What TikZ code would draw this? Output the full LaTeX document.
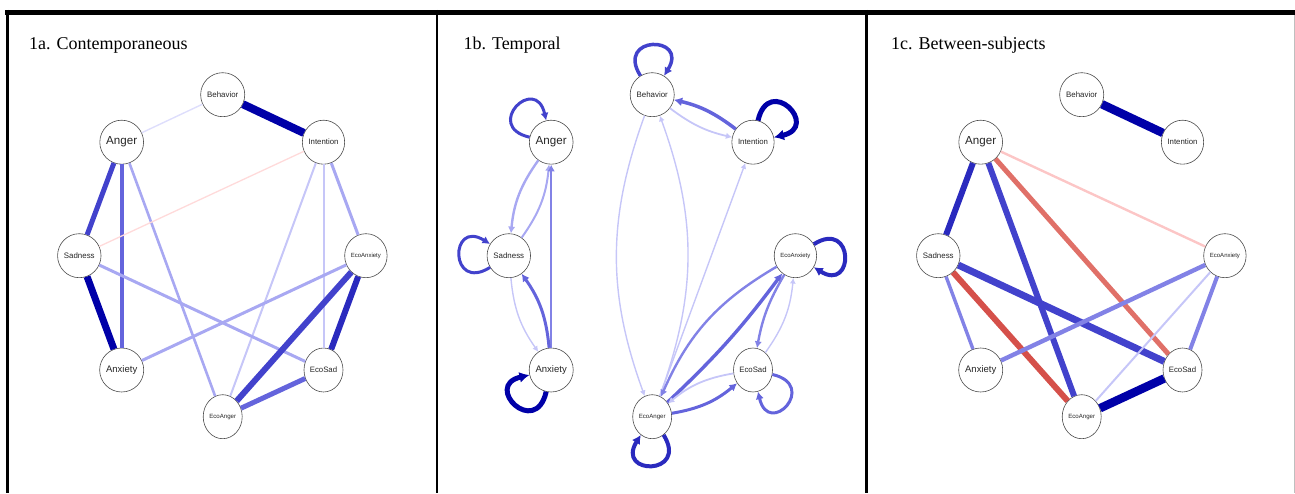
\documentclass[tikz,border=0pt]{standalone}
\usepackage{fontspec}
\setmainfont{Liberation Serif}
\newfontfamily\labelfont{Liberation Sans}
\usepackage{tikz}
\usetikzlibrary{shapes.geometric, arrows.meta}
\definecolor{dk}{HTML}{0000A8}
\definecolor{b2}{HTML}{2A2ABE}
\definecolor{b3}{HTML}{4242CC}
\definecolor{b4}{HTML}{6464DC}
\definecolor{b5}{HTML}{8282E6}
\definecolor{b6}{HTML}{A8A8F2}
\definecolor{b7}{HTML}{C6C6F8}
\definecolor{b8}{HTML}{DEDEFC}
\definecolor{r1}{HTML}{D5504A}
\definecolor{r2}{HTML}{E07068}
\definecolor{r3}{HTML}{FCC6C6}
\definecolor{r4}{HTML}{FFDADA}
\newcommand{\lsize}[1]{\labelfont\fontsize{#1}{#1}\selectfont}
\tikzstyle{var} = [ellipse, minimum width=39pt, minimum height=44pt, inner sep=0pt, draw=black!70, line width=0.6pt, fill=white, text=black!85]
\tikzstyle{paneltitle} = [anchor=base west, inner sep=0pt, font=\fontsize{18}{20}\selectfont]
\tikzstyle{arrow} = [-{Latex[length=4pt 1.2, width=4pt 1.4]}]
\tikzstyle{selfloop} = [arrow, distance=48pt]
\begin{document}
\begin{tikzpicture}[x=1pt, y=1pt]
    \useasboundingbox (0,0) rectangle (1295,493);
    % frame of the three panels
    \draw[line width=5pt] (5,480.5) -- (1295,480.5);
    \draw[line width=3.5pt] (7.5,483) -- (7.5,0);
    \draw[line width=2.2pt] (437,483) -- (437,0);
    \draw[line width=2.2pt] (866.5,483) -- (866.5,0);
    \draw[line width=0.8pt, black!25] (1294,478) -- (1294,0);

    \node[paneltitle] (ta) at (29,443) {1a. Contemporaneous};
    \node[paneltitle] (tb) at (463.3,443) {1b. Temporal};
    \node[paneltitle] (tc) at (891,443) {1c. Between-subjects};

    % same layout in every panel
    \foreach \p/\dx in {a/0, b/429.5, c/859} {
        \begin{scope}[xshift=\dx pt]
            \node[var, font=\lsize{7.9}] (\p-beh) at (222.7,398.3) {Behavior};
            \node[var, font=\lsize{11.6}] (\p-ang) at (121.7,350.8) {Anger};
            \node[var, font=\lsize{7.8}] (\p-int) at (323.5,350.8) {Intention};
            \node[var, font=\lsize{7.9}] (\p-sad) at (79.3,237.3) {Sadness};
            \node[var, font=\lsize{6}] (\p-ecx) at (365.9,237.3) {EcoAnxiety};
            \node[var, font=\lsize{9.5}] (\p-anx) at (121.7,123) {Anxiety};
            \node[var, font=\lsize{7.8}] (\p-ecs) at (323.5,123) {EcoSad};
            \node[var, font=\lsize{6.1}] (\p-eca) at (222.7,76.3) {EcoAnger};
        \end{scope}
    }

    % 1a
    \draw[line width=8pt, dk] (a-beh) -- (a-int);
    \draw[line width=1.4pt, b8] (a-beh) -- (a-ang);
    \draw[line width=5pt, b3] (a-ang) -- (a-sad);
    \draw[line width=4pt, b4] (a-ang) -- (a-anx);
    \draw[line width=2.6pt, b6] (a-ang) -- (a-eca);
    \draw[line width=1.3pt, r4] (a-int) -- (a-sad);
    \draw[line width=2pt, b7] (a-int) -- (a-eca);
    \draw[line width=2pt, b7] (a-int) -- (a-ecs);
    \draw[line width=3pt, b6] (a-int) -- (a-ecx);
    \draw[line width=7pt, dk] (a-sad) -- (a-anx);
    \draw[line width=3pt, b6] (a-sad) -- (a-ecs);
    \draw[line width=3pt, b6] (a-ecx) -- (a-anx);
    \draw[line width=6pt, b3] (a-ecx) -- (a-eca);
    \draw[line width=6pt, b2] (a-ecx) -- (a-ecs);
    \draw[line width=5pt, b4] (a-ecs) -- (a-eca);

    % 1b
    \draw[selfloop, line width=3.5pt, b3] (b-beh) to[out=122, in=58] (b-beh);
    \draw[selfloop, line width=3pt, b3] (b-ang) to[out=167, in=103] (b-ang);
    \draw[selfloop, line width=5pt, dk] (b-int) to[out=77, in=13] (b-int);
    \draw[selfloop, line width=3pt, b3] (b-sad) to[out=212, in=148] (b-sad);
    \draw[selfloop, line width=4pt, b2] (b-ecx) to[out=32, in=-32] (b-ecx);
    \draw[selfloop, line width=5pt, dk] (b-anx) to[out=257, in=193] (b-anx);
    \draw[selfloop, line width=3pt, b4] (b-ecs) to[out=347, in=283] (b-ecs);
    \draw[selfloop, line width=4pt, b2] (b-eca) to[out=302, in=238] (b-eca);
    \draw[arrow, line width=3.5pt, b4] (b-int) to[bend right=12] (b-beh);
    \draw[arrow, line width=1.8pt, b7] (b-beh) to[bend right=12] (b-int);
    \draw[arrow, line width=1.4pt, b7] (b-beh) to[bend right=20] (b-eca);
    \draw[arrow, line width=1.4pt, b7] (b-eca) to[bend right=20] (b-beh);
    \draw[arrow, line width=1.4pt, b7] (b-eca) -- (b-int);
    \draw[arrow, line width=2.4pt, b5] (b-ecx) to[bend right=18] (b-eca);
    \draw[arrow, line width=3.4pt, b4] (b-eca) to[bend right=5] (b-ecx);
    \draw[arrow, line width=1.8pt, b7] (b-ecs) to[bend right=15] (b-eca);
    \draw[arrow, line width=3pt, b4] (b-eca) to[bend right=15] (b-ecs);
    \draw[arrow, line width=2.4pt, b5] (b-ecx) to[bend right=10] (b-ecs);
    \draw[arrow, line width=1.4pt, b7] (b-ecs) to[bend right=15] (b-ecx);
    \draw[arrow, line width=2.4pt, b6] (b-ang) to[bend right=15] (b-sad);
    \draw[arrow, line width=2pt, b6] (b-sad) to[bend right=15] (b-ang);
    \draw[arrow, line width=2.4pt, b5] (b-anx) -- (b-ang);
    \draw[arrow, line width=3pt, b4] (b-anx) to[bend right=15] (b-sad);
    \draw[arrow, line width=1.4pt, b7] (b-sad) to[bend right=15] (b-anx);

    % 1c
    \draw[line width=8.5pt, dk] (c-beh) -- (c-int);
    \draw[line width=6pt, b2] (c-ang) -- (c-sad);
    \draw[line width=6pt, b3] (c-ang) -- (c-eca);
    \draw[line width=5pt, r2] (c-ang) -- (c-ecs);
    \draw[line width=2.4pt, r3] (c-ang) -- (c-ecx);
    \draw[line width=3.4pt, b5] (c-sad) -- (c-anx);
    \draw[line width=6pt, r1] (c-sad) -- (c-eca);
    \draw[line width=7pt, b3] (c-sad) -- (c-ecs);
    \draw[line width=4.4pt, b5] (c-anx) -- (c-ecx);
    \draw[line width=2pt, b7] (c-ecx) -- (c-eca);
    \draw[line width=4pt, b5] (c-ecx) -- (c-ecs);
    \draw[line width=8.5pt, dk] (c-ecs) -- (c-eca);
\end{tikzpicture}
\end{document}
